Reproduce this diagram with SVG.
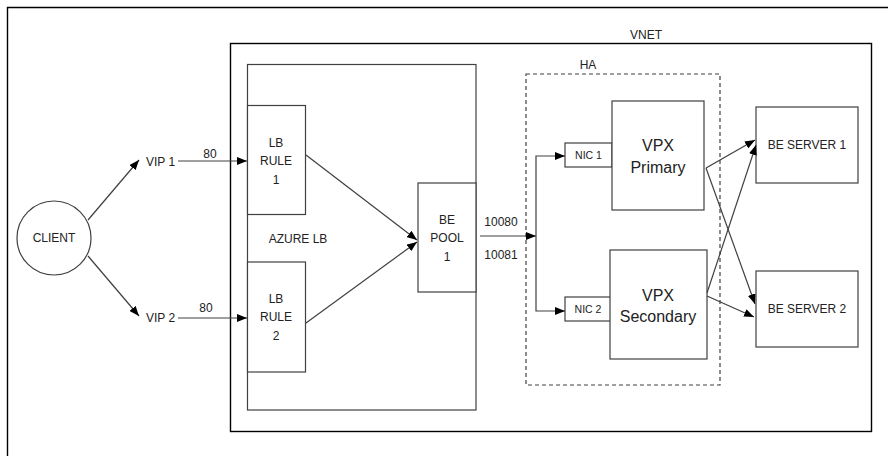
<svg xmlns="http://www.w3.org/2000/svg" width="888" height="456" viewBox="0 0 888 456">
<defs>
<style>
.box{fill:#fff;stroke:#404040;stroke-width:1.2}
.frame{fill:none;stroke:#000;stroke-width:1.4}
.dash{fill:none;stroke:#404040;stroke-width:1.2;stroke-dasharray:4 3}
.conn{fill:none;stroke:#404040;stroke-width:1.2}
text{font-family:"Liberation Sans",Arial,sans-serif;font-size:12px;fill:#222;text-anchor:middle}
.big{font-size:16px}
.sm{font-size:10.5px}
.st{text-anchor:start}
</style>
<marker id="arr" markerUnits="userSpaceOnUse" markerWidth="11" markerHeight="8" refX="10" refY="4" orient="auto">
<path d="M0,0 L10,4 L0,8 z" fill="#000"/>
</marker>
</defs>
<rect width="888" height="456" fill="#fff"/>
<path class="frame" d="M7.5,456 L7.5,7.5 L888,7.5"/>
<g id="vnet">
<rect class="frame" x="230.5" y="43.5" width="641" height="388"/>
<text x="646" y="39">VNET</text>
</g>
<g id="azure-lb">
<rect class="box" x="247.5" y="64.5" width="228.5" height="345.5"/>
<text x="298" y="243">AZURE LB</text>
</g>
<g id="ha">
<rect class="dash" x="526" y="74" width="194" height="311"/>
<text x="588" y="69">HA</text>
</g>
<g id="client">
<circle class="box" cx="54" cy="238" r="37"/>
<text x="54" y="242">CLIENT</text>
</g>
<g id="vip1"><text class="st" x="146" y="166">VIP 1</text></g>
<g id="vip2"><text class="st" x="146" y="322">VIP 2</text></g>
<g id="lb-rule-1">
<rect class="box" x="247.5" y="105.5" width="58" height="109"/>
<text x="276" y="147">LB</text><text x="276" y="165">RULE</text><text x="276" y="184">1</text>
</g>
<g id="lb-rule-2">
<rect class="box" x="247.5" y="262" width="58" height="110"/>
<text x="276" y="303">LB</text><text x="276" y="321">RULE</text><text x="276" y="340">2</text>
</g>
<g id="be-pool-1">
<rect class="box" x="418" y="183" width="58" height="109"/>
<text x="447" y="224">BE</text><text x="447" y="242">POOL</text><text x="447" y="261">1</text>
</g>
<g id="nic1">
<rect class="box" x="565" y="143" width="47" height="24"/>
<text class="sm" x="588.5" y="159">NIC 1</text>
</g>
<g id="nic2">
<rect class="box" x="565" y="297" width="46" height="24"/>
<text class="sm" x="588" y="313">NIC 2</text>
</g>
<g id="vpx-primary">
<rect class="box" x="612" y="101" width="92" height="109"/>
<text class="big" x="658" y="151">VPX</text><text class="big" x="658" y="173">Primary</text>
</g>
<g id="vpx-secondary">
<rect class="box" x="610" y="250" width="97" height="109"/>
<text class="big" x="658" y="301">VPX</text><text class="big" x="658" y="322">Secondary</text>
</g>
<g id="be-server-1">
<rect class="box" x="756" y="107" width="102" height="76"/>
<text x="807" y="149">BE SERVER 1</text>
</g>
<g id="be-server-2">
<rect class="box" x="756" y="271" width="102" height="76"/>
<text x="807" y="313">BE SERVER 2</text>
</g>
<g id="connectors">
<line class="conn" x1="88" y1="220" x2="139" y2="160" marker-end="url(#arr)"/>
<line class="conn" x1="88" y1="256" x2="139" y2="316" marker-end="url(#arr)"/>
<line class="conn" x1="178" y1="161" x2="247" y2="161" marker-end="url(#arr)"/>
<text x="210" y="158">80</text>
<line class="conn" x1="178" y1="318" x2="247" y2="318" marker-end="url(#arr)"/>
<text x="206" y="312">80</text>
<line class="conn" x1="306" y1="155" x2="417" y2="240" marker-end="url(#arr)"/>
<line class="conn" x1="306" y1="323" x2="417" y2="242" marker-end="url(#arr)"/>
<line class="conn" x1="480" y1="236" x2="536" y2="236" marker-end="url(#arr)"/>
<text x="501" y="226">10080</text>
<text x="501" y="259">10081</text>
<path class="conn" d="M536,236 L536,156 L565,156" marker-end="url(#arr)"/>
<path class="conn" d="M536,236 L536,311 L565,311" marker-end="url(#arr)"/>
<line class="conn" x1="706" y1="168" x2="755" y2="140" marker-end="url(#arr)"/>
<line class="conn" x1="706" y1="168" x2="755" y2="304" marker-end="url(#arr)"/>
<line class="conn" x1="707" y1="293" x2="756" y2="145" marker-end="url(#arr)"/>
<line class="conn" x1="707" y1="296" x2="754" y2="317" marker-end="url(#arr)"/>
</g>
</svg>
